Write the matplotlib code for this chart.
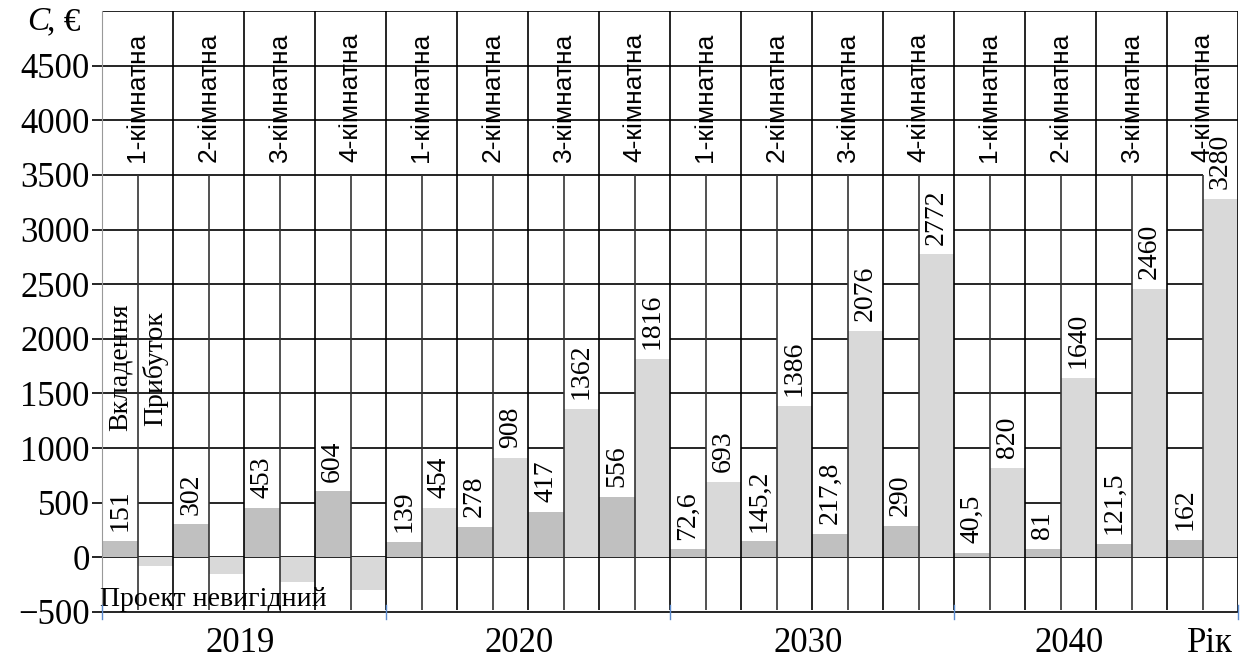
import matplotlib
matplotlib.use('Agg')
import matplotlib.pyplot as plt
import matplotlib.transforms as mtransforms
from matplotlib.patches import Rectangle

years = ['2019', '2020', '2030', '2040']
rooms = ['1-кімнатна', '2-кімнатна', '3-кімнатна', '4-кімнатна']
investment = [151, 302, 453, 604,
              139, 278, 417, 556,
              72.6, 145.2, 217.8, 290,
              40.5, 81, 121.5, 162]
profit = [-75, -151, -226, -302,
          454, 908, 1362, 1816,
          693, 1386, 2076, 2772,
          820, 1640, 2460, 3280]
y_ticks = list(range(-500, 5000, 500))

serif = 'Liberation Serif'
sans = 'Liberation Sans'
inv_color = '#c0c0c0'
prof_color = '#d9d9d9'


def fmt(v):
    return f'{v:g}'.replace('.', ',')


fig = plt.figure(figsize=(12.44, 6.62), dpi=100)
ax = fig.add_axes([102 / 1244, 1 - 612 / 662, 1136 / 1244, 601 / 662])

n = len(investment)
x_inv = [2 * i for i in range(n)]
x_prof = [2 * i + 1 for i in range(n)]

ax.set_xlim(-0.5, 2 * n - 0.5)
ax.set_ylim(-500, 5000)

# horizontal grid
for y in y_ticks[1:] + [5000]:
    ax.axhline(y, color='black', lw=1.2, zorder=1)

ax.bar(x_inv, investment, width=1.0, color=inv_color, zorder=2)
ax.bar(x_prof, profit, width=1.0, color=prof_color, zorder=2)

# vertical grid: group borders full height, middle lines stop at 3500
group_edges = [2 * i - 0.5 for i in range(1, n)]
mid_edges = [2 * i + 0.5 for i in range(n)]
ax.vlines(group_edges, -480, 5000, color='black', lw=1.2, zorder=3)
ax.vlines(mid_edges, -480, 3500, color='#333333', lw=1.2, zorder=3)
ax.vlines([2 * n - 0.5], -500, 5000, color='black', lw=1.2, zorder=3)

# value labels
labels = []
for x, v in zip(x_inv, investment):
    labels.append((x, v, fmt(v)))
for x, v in zip(x_prof, profit):
    if v > 0:
        labels.append((x, v, fmt(v)))

texts = []
for x, v, s in labels:
    t = ax.annotate(s, (x, v), xytext=(0, 7), textcoords='offset points',
                    rotation=90, ha='center', va='bottom',
                    fontsize=20, family=serif, zorder=4)
    texts.append((x, v, t))

# room labels on top
for i in range(n):
    ax.text(2 * i + 0.5, 3620, rooms[i % 4], rotation=90, ha='center', va='bottom',
            fontsize=19, family=sans, zorder=4)

ax.text(0, 1160, 'Вкладення', rotation=90, ha='center', va='bottom',
        fontsize=20, family=serif, zorder=4)
ax.text(1, 1200, 'Прибуток', rotation=90, ha='center', va='bottom',
        fontsize=20, family=serif, zorder=4)
ax.text(-0.55, -385, 'Проект невигідний', ha='left', va='center',
        fontsize=20, family=serif, zorder=5)

# axes styling
for side in ['top', 'right']:
    ax.spines[side].set_visible(False)
ax.spines['left'].set_color('#999999')
ax.spines['left'].set_zorder(3)
ax.spines['bottom'].set_color('black')
ax.spines['bottom'].set_linewidth(1.2)
ax.set_yticks(y_ticks)
ax.set_yticklabels([('−' + str(-t)) if t < 0 else str(t) for t in y_ticks],
                   family=serif, fontsize=25)
ax.tick_params(axis='y', length=7, width=1.2, color='black', pad=2)
ax.set_xticks([])

trans = mtransforms.blended_transform_factory(ax.transData, ax.transAxes)
year_x = [3.39, 11.25, 19.39, 26.74]
for xx, yr in zip(year_x, years):
    ax.text(xx, -0.052, yr, transform=trans, ha='center', va='center',
            fontsize=25, family=serif)
ax.text(30.71, -0.052, 'Рік', transform=trans, ha='center', va='center',
        fontsize=25, family=serif)
for xb in [-0.5, 7.5, 15.5, 23.5, 31.5]:
    ax.plot([xb, xb], [-0.012, 0.012], transform=trans, color='#5b8bd0',
            lw=1, clip_on=False, zorder=5)

fig.text(27 / 1244, 1 - 22 / 662, 'C', style='italic', family=serif, fontsize=24,
         ha='left', va='center')
fig.text(47 / 1244, 1 - 22 / 662, ', €', family=serif, fontsize=24,
         ha='left', va='center')

# white backgrounds behind value labels
fig.canvas.draw()
renderer = fig.canvas.get_renderer()
inv = ax.transData.inverted()
for x, v, t in texts:
    bb = t.get_window_extent(renderer)
    top = inv.transform((0, bb.y1 + 3))[1]
    ax.add_patch(Rectangle((x - 0.5, v), 1.0, top - v, facecolor='white',
                           edgecolor='none', zorder=2.5))

fig.savefig('out.png', dpi=100)
